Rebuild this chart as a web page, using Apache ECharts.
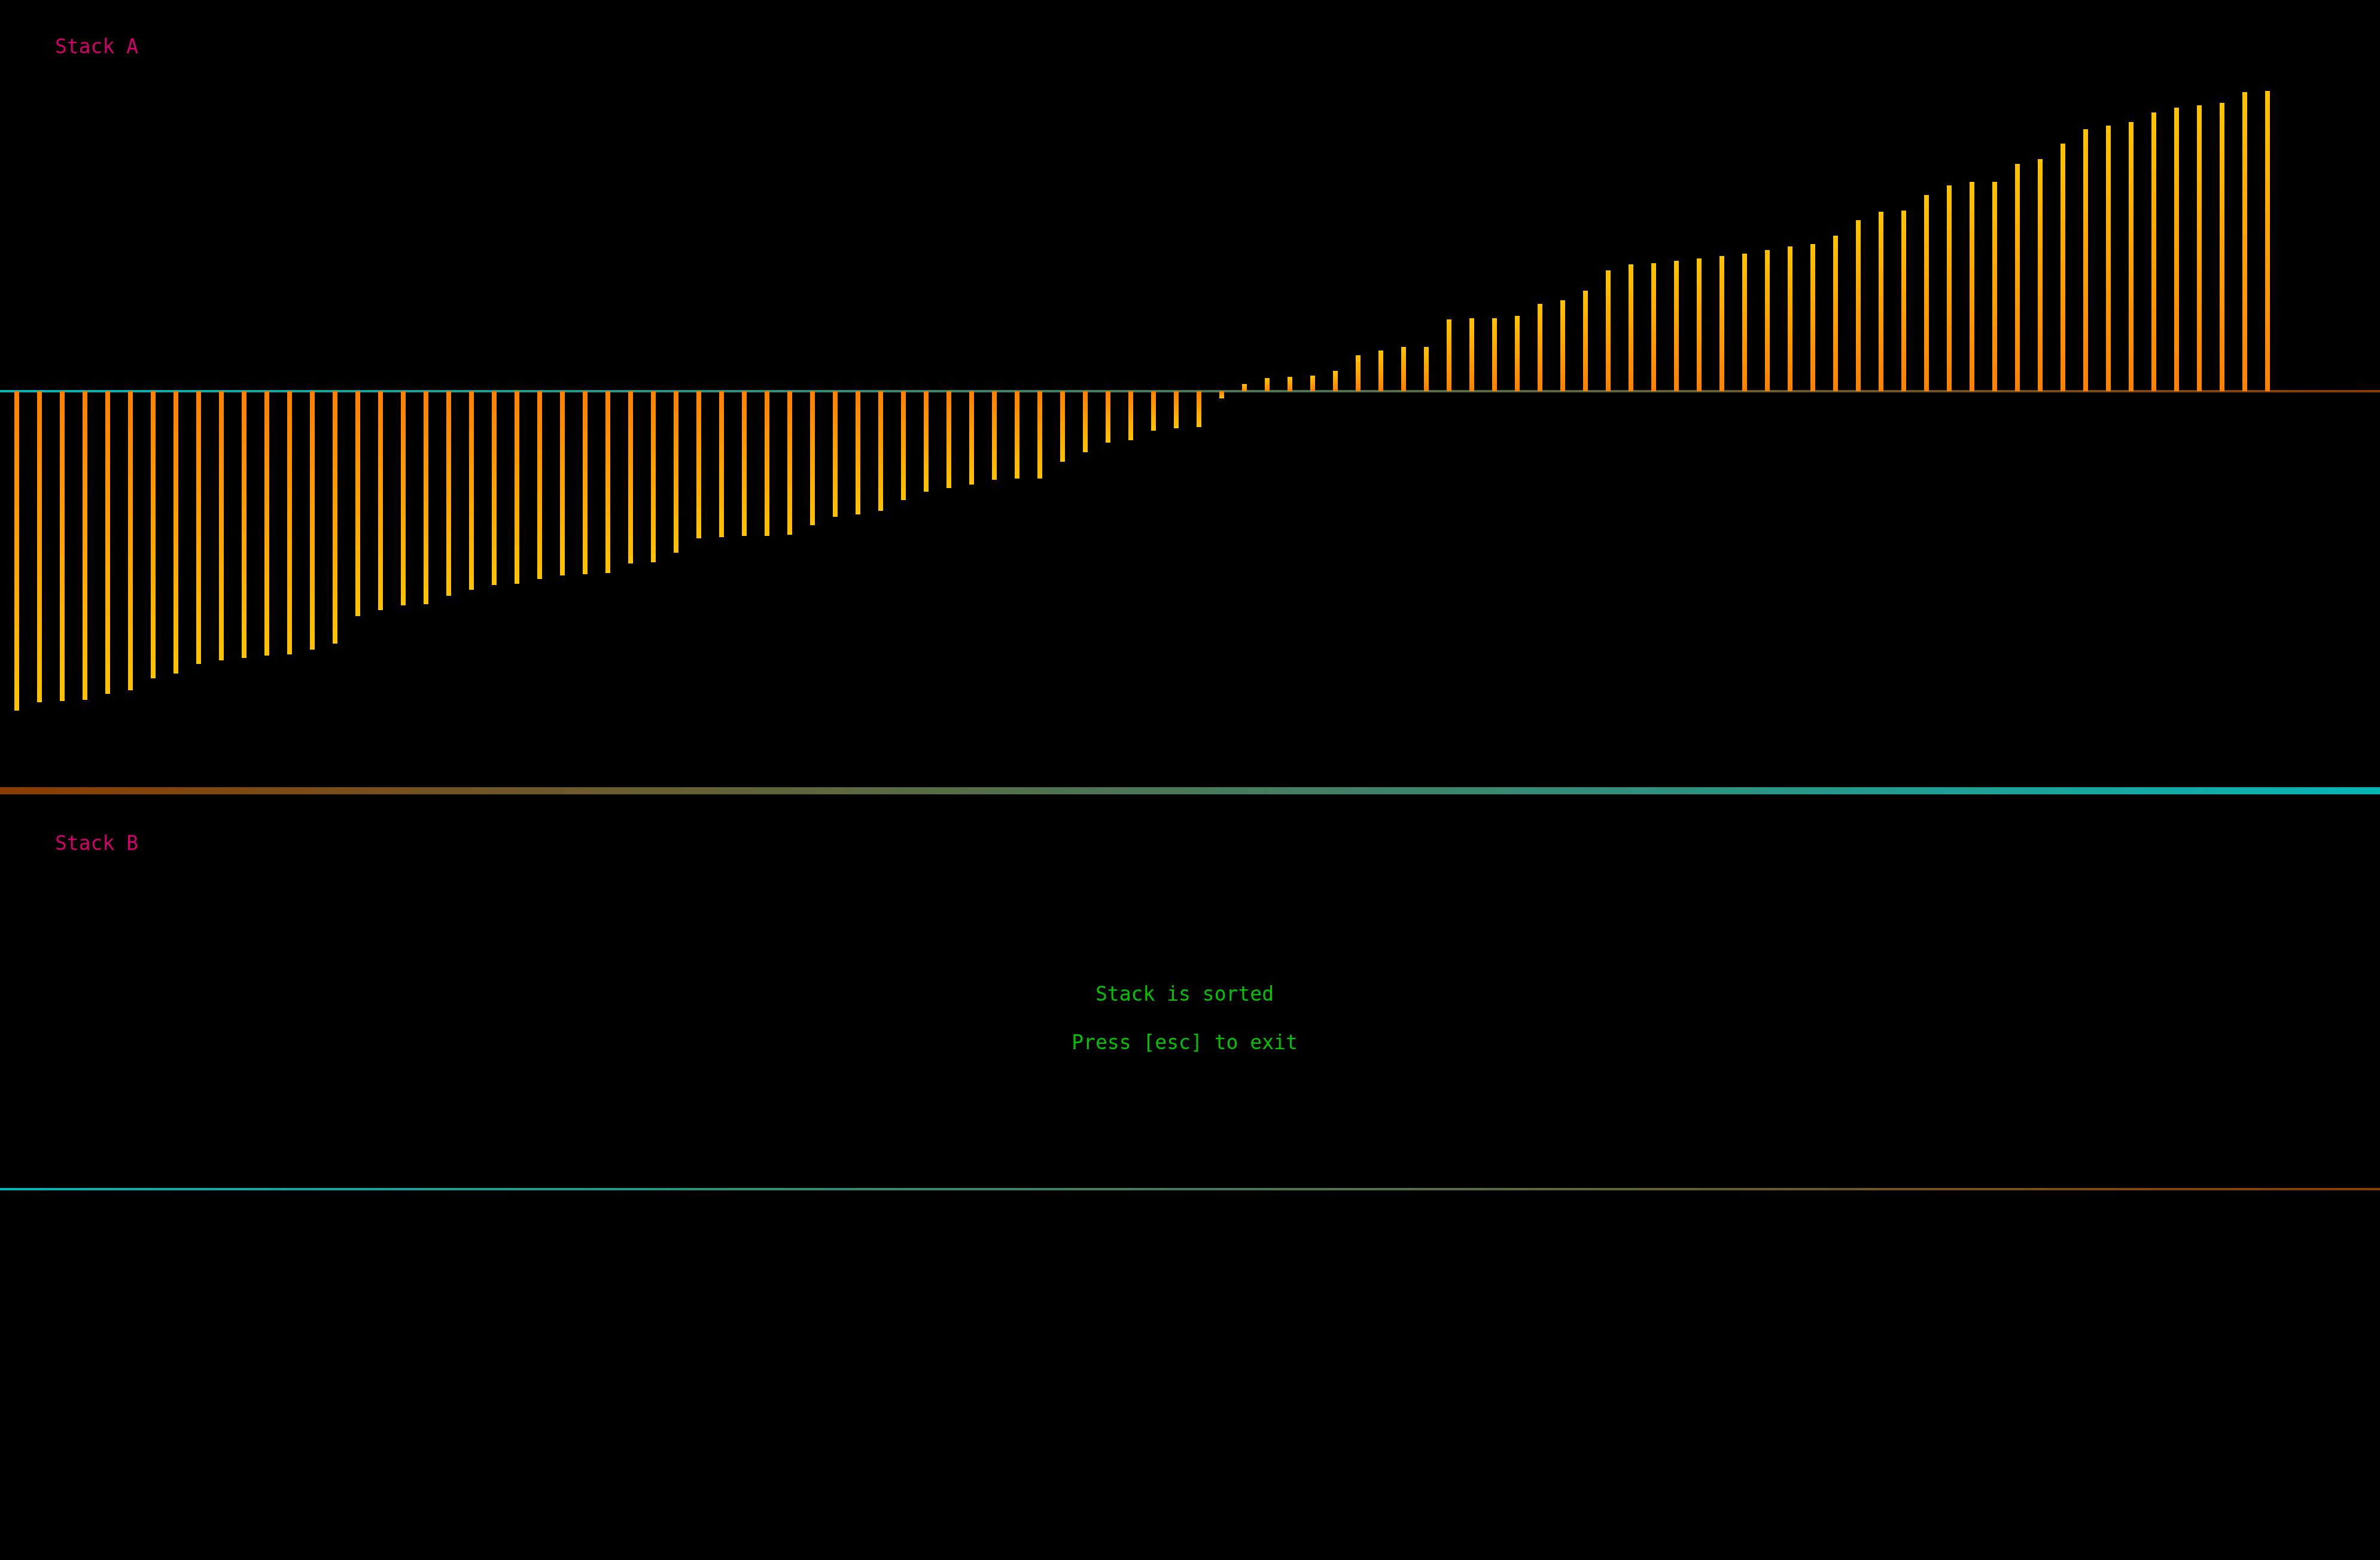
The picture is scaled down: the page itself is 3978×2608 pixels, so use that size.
<!DOCTYPE html>
<html>
<head>
<meta charset="utf-8">
<title>push_swap</title>
<script src="https://cdn.jsdelivr.net/npm/echarts@6/dist/echarts.min.js"></script>
<style>
    html, body { margin: 0; padding: 0; background: #000; }
    #chart { width: 3978px; height: 2608px; }
</style>
</head>
<body>
<div id="chart"></div>
<script>
// 颜色
var cTitle = '#d4006c'   // Stack A / Stack B
var cMsg = '#00c400'     // 提示文字
var cBarTip = '#ffc400'  // 柱子末端
var cBarBase = '#ff8000' // 柱子根部
var cCyan = '#08b4b4'
var cBrown = '#8a3c00'
var font = '33px "DejaVu Sans Mono", monospace'

// 数据 (stack A 已排序, stack B 为空)
var stackA = [
    -267, -260, -259, -258, -253, -250, -240, -236, -228, -225,
    -223, -221, -220, -216, -211, -188, -183, -179, -178, -171,
    -166, -162, -161, -157, -154, -153, -152, -144, -143, -135,
    -123, -122, -121, -121, -120, -112, -105, -103, -100, -91,
    -84, -81, -78, -74, -73, -73, -59, -51, -43, -41,
    -33, -31, -30, -6, 6, 11, 12, 13, 17, 30,
    34, 37, 37, 60, 61, 61, 63, 73, 76, 84,
    101, 106, 107, 109, 111, 113, 115, 118, 121, 123,
    130, 143, 150, 151, 164, 172, 175, 175, 190, 194,
    207, 219, 222, 225, 233, 237, 239, 241, 250, 251
]
var stackB = []
var messages = ['Stack is sorted', 'Press [esc] to exit']

// 轴范围
var valMin = -280
var valMax = 280
var slotMin = -28 / 38
var slotMax = (3978 - 28) / 38

function grad(c0, c1, horizontal) {
    return new echarts.graphic.LinearGradient(0, 0, horizontal ? 1 : 0, horizontal ? 0 : 1, [
        { offset: 0, color: c0 },
        { offset: 1, color: c1 }
    ])
}

function toBars(stack) {
    return stack.map((v, i) => {
        return {
            value: [i, v],
            itemStyle: {
                // 从根部(橙)渐变到末端(黄)
                color: v >= 0 ? grad(cBarTip, cBarBase) : grad(cBarBase, cBarTip)
            }
        }
    })
}

function xAxisOf(idx) {
    return {
        gridIndex: idx,
        type: 'value',
        min: slotMin,
        max: slotMax,
        axisLine: {
            show: true,
            onZero: true,
            lineStyle: { width: 4, color: grad(cCyan, cBrown, true) }
        },
        axisTick: { show: false },
        axisLabel: { show: false },
        splitLine: { show: false }
    }
}

function yAxisOf(idx) {
    return {
        gridIndex: idx,
        type: 'value',
        min: valMin,
        max: valMax,
        show: false,
        splitLine: { show: false }
    }
}

var option = {
    backgroundColor: '#000000',
    animation: false,
    grid: [
        { left: 0, right: 0, top: 94, height: 1120 },
        { left: 0, right: 0, top: 1428, height: 1120 }
    ],
    xAxis: [xAxisOf(0), xAxisOf(1)],
    yAxis: [yAxisOf(0), yAxisOf(1)],
    series: [
        {
            name: 'Stack A',
            type: 'bar',
            xAxisIndex: 0,
            yAxisIndex: 0,
            barWidth: 8,
            data: toBars(stackA)
        },
        {
            name: 'Stack B',
            type: 'bar',
            xAxisIndex: 1,
            yAxisIndex: 1,
            barWidth: 8,
            data: toBars(stackB)
        }
    ],
    graphic: [
        {
            type: 'rect',
            x: 0,
            y: 1316,
            shape: { width: 3978, height: 12 },
            style: { fill: grad(cBrown, cCyan, true) }
        },
        {
            type: 'text',
            x: 92,
            y: 64,
            style: { text: 'Stack A', font: font, fill: cTitle, verticalAlign: 'top', textVerticalAlign: 'top' }
        },
        {
            type: 'text',
            x: 92,
            y: 1396,
            style: { text: 'Stack B', font: font, fill: cTitle, verticalAlign: 'top', textVerticalAlign: 'top' }
        },
        {
            type: 'text',
            x: 1980,
            y: 1648,
            style: { text: messages[0], font: font, fill: cMsg, align: 'center', textAlign: 'center', verticalAlign: 'top', textVerticalAlign: 'top' }
        },
        {
            type: 'text',
            x: 1980,
            y: 1729,
            style: { text: messages[1], font: font, fill: cMsg, align: 'center', textAlign: 'center', verticalAlign: 'top', textVerticalAlign: 'top' }
        }
    ]
}

var chart = echarts.init(document.getElementById('chart'))
chart.setOption(option)
</script>
</body>
</html>
